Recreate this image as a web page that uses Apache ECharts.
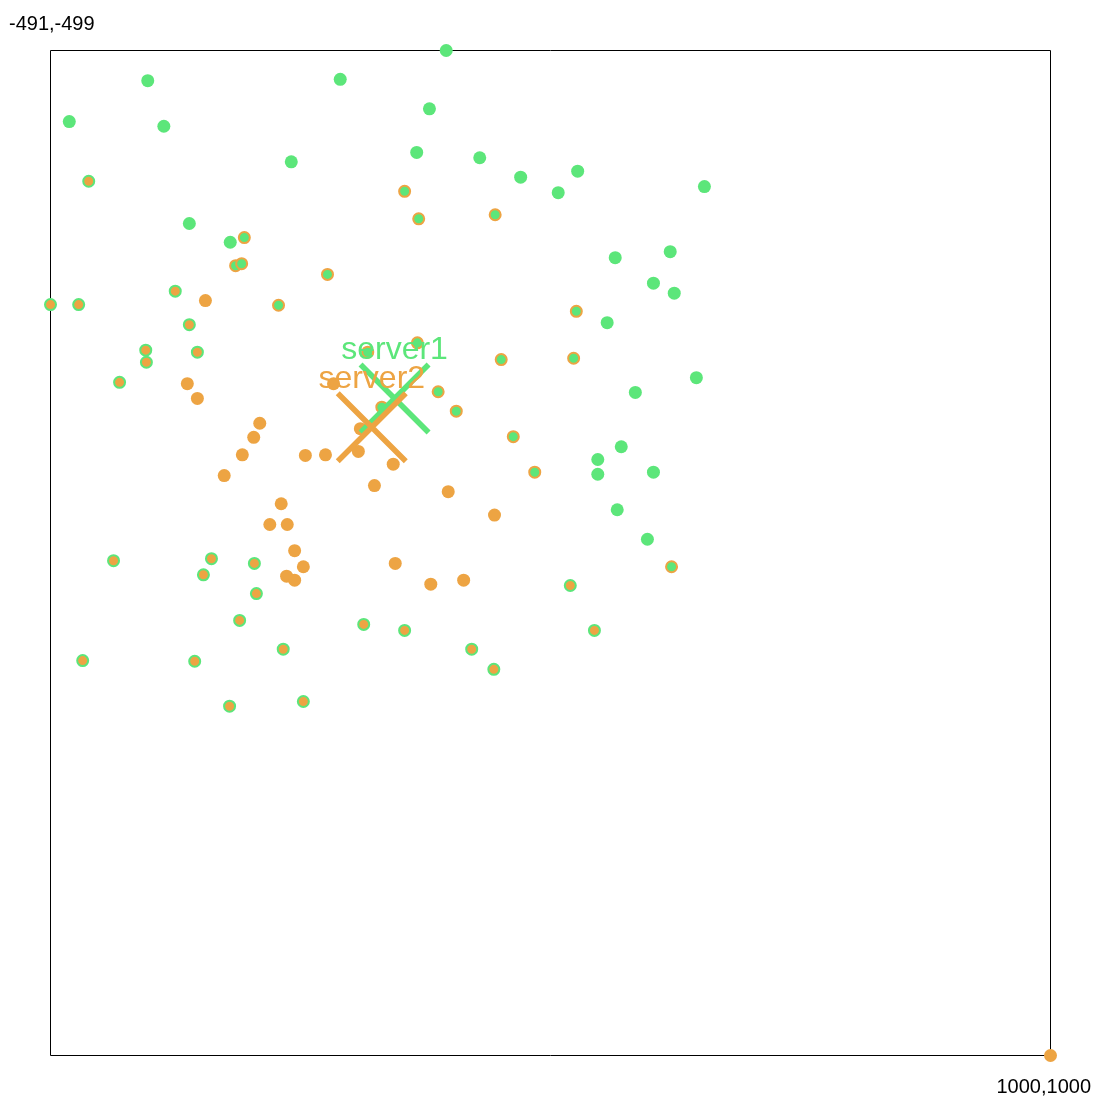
<!DOCTYPE html>
<html>
<head>
<meta charset="utf-8">
<title>servers</title>
<script src="https://cdn.jsdelivr.net/npm/echarts@6/dist/echarts.min.js"></script>
<style>
  html, body { margin: 0; padding: 0; background: #fff; }
  #main { width: 1100px; height: 1105px; }
</style>
</head>
<body>
<div id="main"></div>
<script>
// plot range (top-left / bottom-right corners)
const xRange = [-491, 1000];
const yRange = [-499, 1000];

const serverNames = ['server1', 'server2'];
const serverCenters = [[22, 20], [-12, 63]];

// points only seen by server1
const server1Only = [
  [-346, -454], [-59, -456], [-463, -393], [-322, -386], [-132, -333],
  [-284, -241], [-223, -213], [99, -499], [74, -412], [55, -347],
  [149, -339], [210, -310], [295, -319], [266, -287], [484, -296],
  [351, -190], [433, -199], [408, -152], [439, -137], [339, -93],
  [472, -11], [381, 11], [360, 92], [325, 111], [325, 133],
  [408, 130], [354, 186], [399, 230]
];

// points only seen by server2
const server2Only = [
  [-260, -126], [-287, -2], [-69, -2], [-272, 20], [-179, 57],
  [-188, 78], [-205, 104], [-232, 135], [-111, 105], [-81, 104],
  [-32, 99], [-29, 65], [20, 118], [-8, 150], [102, 159],
  [171, 194], [-147, 177], [-164, 208], [-138, 208], [-127, 247],
  [-114, 271], [-139, 285], [-127, 291], [23, 266], [76, 297],
  [125, 291], [1000, 1000]
];

// seen by both, server1 drawn on top
const bothServer1Top = [
  [-202, -220], [-215, -178], [-206, -181], [-78, -165], [-151, -119],
  [-18, -49], [37, -289], [58, -248], [172, -254], [293, -110],
  [56, -63], [181, -38], [289, -40], [87, 10], [114, 39],
  [199, 77], [231, 130], [435, 271], [3, 33]
];

// seen by both, server2 drawn on top
const bothServer2Top = [
  [-434, -304], [-305, -140], [-491, -120], [-449, -120], [-284, -90],
  [-349, -52], [-272, -49], [-348, -34], [-388, -4], [-397, 262],
  [-251, 259], [-263, 283], [-187, 266], [-184, 311], [-209, 351],
  [-24, 357], [-144, 394], [-443, 411], [-276, 412], [-224, 479],
  [-114, 472], [284, 299], [37, 366], [320, 366], [137, 394],
  [170, 424]
];

const GREEN = '#5ce67a';
const ORANGE = '#eda443';
const FONT = '"Liberation Sans", Arial, sans-serif';
const CROSS = 'path://M0,5.5L5.5,0L100,94.5L94.5,100Z M94.5,0L100,5.5L5.5,100L0,94.5Z';

let myChart = echarts.init(document.getElementById('main'));

function crossSeries(i, color) {
  return {
    type: 'scatter',
    symbol: CROSS,
    symbolSize: 72,
    itemStyle: { color: color, opacity: 1 },
    label: {
      show: true,
      position: 'top',
      distance: -4,
      formatter: '{b}',
      fontSize: 32,
      fontFamily: FONT,
      color: color
    },
    data: [{ name: serverNames[i], value: serverCenters[i] }],
    z: 5
  };
}

let option = {
  animation: false,
  grid: {
    left: 50.5, top: 50.5, width: 1000, height: 1005,
    show: true, borderColor: '#000', borderWidth: 1, backgroundColor: 'transparent'
  },
  xAxis: {
    type: 'value', min: xRange[0], max: xRange[1],
    axisLine: { show: false }, axisTick: { show: false },
    axisLabel: { show: false }, splitLine: { show: false }
  },
  yAxis: {
    type: 'value', min: yRange[0], max: yRange[1], inverse: true,
    axisLine: { show: false }, axisTick: { show: false },
    axisLabel: { show: false }, splitLine: { show: false }
  },
  graphic: [
    {
      type: 'text', left: 9, top: 14,
      style: { text: xRange[0] + ',' + yRange[0], fontSize: 20, fontFamily: FONT, fill: '#000' }
    },
    {
      type: 'text', right: 9, top: 1077,
      style: { text: xRange[1] + ',' + yRange[1], fontSize: 20, fontFamily: FONT, fill: '#000' }
    }
  ],
  series: [
    { type: 'scatter', symbolSize: 13, itemStyle: { color: GREEN, opacity: 1 }, data: server1Only },
    {
      type: 'scatter', symbolSize: 11,
      itemStyle: { color: GREEN, borderColor: ORANGE, borderWidth: 2, opacity: 1 },
      data: bothServer1Top
    },
    {
      type: 'scatter', symbolSize: 11,
      itemStyle: { color: ORANGE, borderColor: GREEN, borderWidth: 2, opacity: 1 },
      data: bothServer2Top
    },
    { type: 'scatter', symbolSize: 13, itemStyle: { color: ORANGE, opacity: 1 }, data: server2Only },
    crossSeries(0, GREEN),
    crossSeries(1, ORANGE)
  ]
};
myChart.setOption(option);
</script>
</body>
</html>
